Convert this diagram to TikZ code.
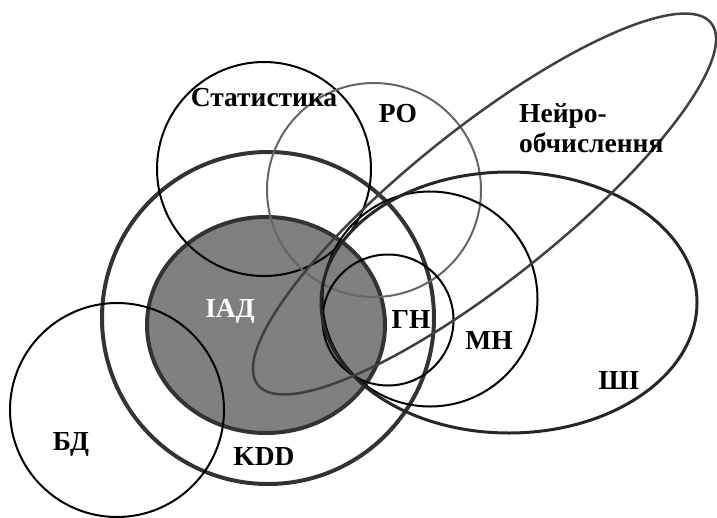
\documentclass[tikz,border=0pt]{standalone}
\usepackage{fontspec}
\newfontfamily\tnr[BoldFont={Liberation Serif Bold}]{Liberation Serif}
\begin{document}
\begin{tikzpicture}[x=1pt,y=-1pt,
  lbl/.style={font=\tnr\fontsize{27.5}{30}\selectfont\bfseries, inner sep=0pt},
  thin ring/.style={draw=black, line width=2pt},
  thick ring/.style={draw=black!80, line width=4pt}]
\useasboundingbox (0,0) rectangle (717,517);
% IAD filled
\fill[black!50] (266,325) ellipse [x radius=119pt, y radius=108pt];
\draw[thick ring] (266,325) ellipse [x radius=119pt, y radius=108pt];
% KDD
\draw[thick ring] (268,318) circle (166pt);
% Statistics
\draw[thin ring] (264,169) circle (107pt);
% RO
\draw[draw=black!60, line width=2pt] (374,190) circle (107pt);
% BD
\draw[thin ring] (117,410) circle (107pt);
% GN
\draw[thin ring] (388,320) circle (65.5pt);
% MN
\draw[thin ring] (430,299) circle (107.5pt);
% SHI
\draw[draw=black!85, line width=3pt] (509,302.5) ellipse [x radius=188pt, y radius=130.5pt];
% Neuro
\draw[draw=black!75, line width=2.5pt, rotate around={38.6:(484.5,204)}] (484.5,204) ellipse [x radius=290pt, y radius=76pt];
% labels
\node[lbl] (stat) at (264,98) {Статистика};
\node[lbl] (ro) at (398,114) {РО};
\node[lbl, align=left, anchor=west] (neuro) at (519,128) {Нейро-\\обчислення};
\node[lbl, text=white] (iad) at (230,311) {ІАД};
\node[lbl] (gn) at (411,319) {ГН};
\node[lbl] (mn) at (489,340) {МН};
\node[lbl] (shi) at (619,380) {ШІ};
\node[lbl] (bd) at (71,444) {БД};
\node[lbl] (kdd) at (264,457) {KDD};
\end{tikzpicture}
\end{document}
